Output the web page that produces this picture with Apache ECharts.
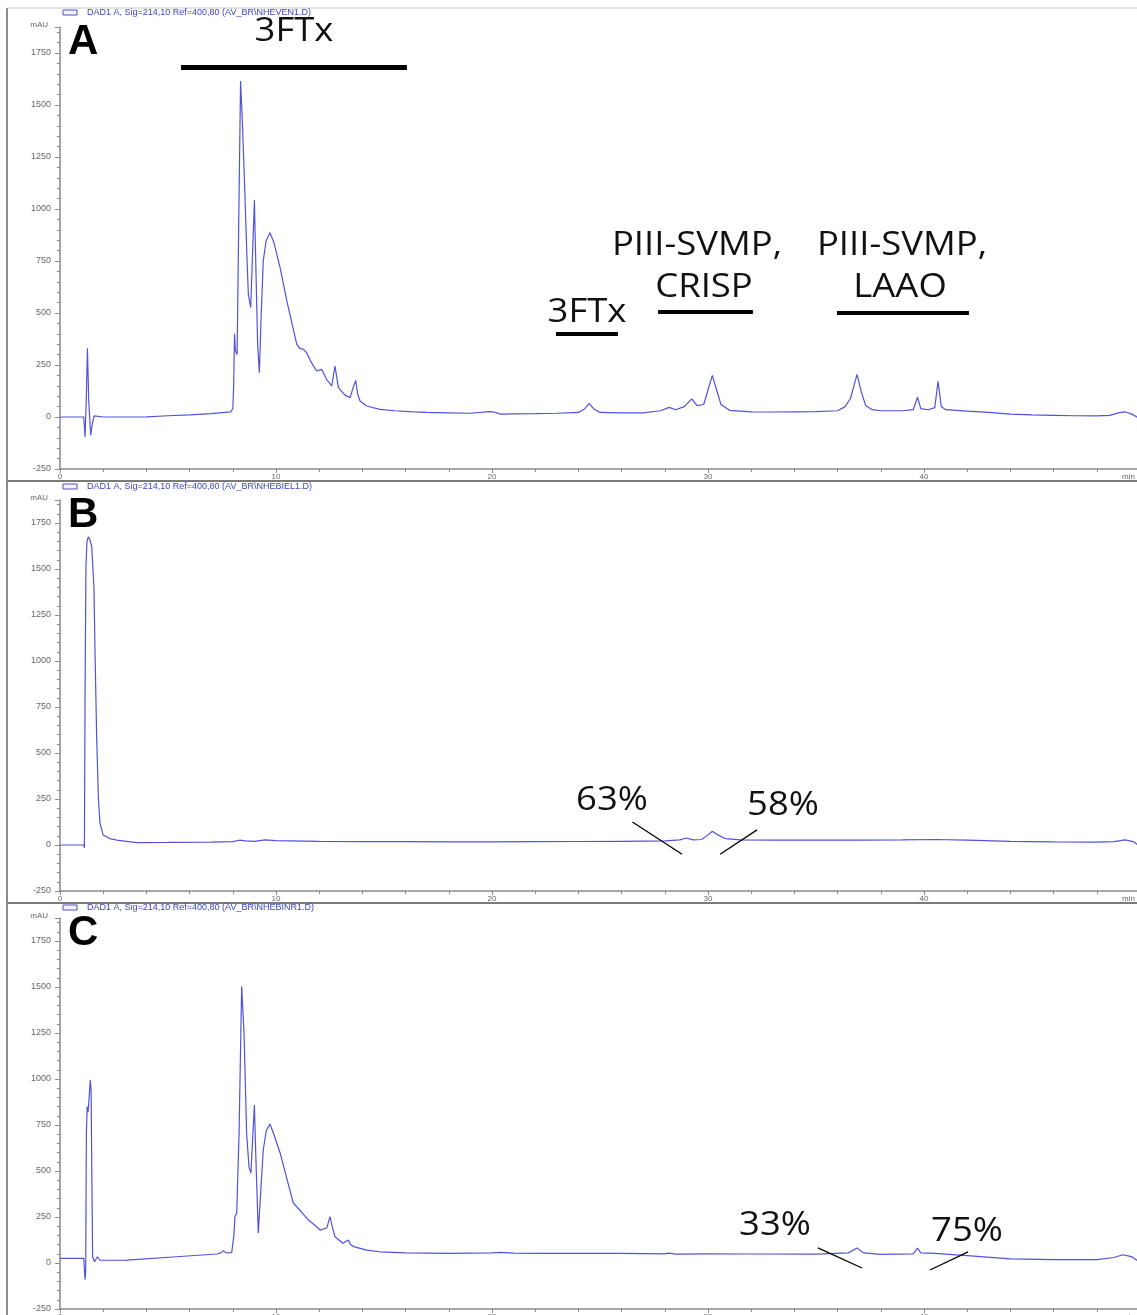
<!DOCTYPE html>
<html>
<head>
<meta charset="utf-8">
<script src="https://cdn.jsdelivr.net/npm/echarts@6/dist/echarts.min.js"></script>
<style>
html,body{margin:0;padding:0;background:#fff;}
#chart{width:1137px;height:1315px;}
</style>
</head>
<body>
<div id="chart"></div>
<script>
// ---- data (retention time in min, absorbance in mAU) ----
const panelLetters = ['A', 'B', 'C'];
const headerFiles = ['AV_BR\\NHEVEN1.D', 'AV_BR\\NHEBIEL1.D', 'AV_BR\\NHEBINR1.D'];
const yTickValues = [-250, 0, 250, 500, 750, 1000, 1250, 1500, 1750];
const xTickValues = [0, 10, 20, 30, 40];

const traceA = [
  [0,0],[1.1,0],[1.16,-96],[1.22,100],[1.27,330],[1.33,80],[1.42,-87],[1.5,-30],[1.58,5],[1.65,3],[2,0],
  [3,0],[4,1],[5,6],[6,10],[7,16],[7.9,25],[8.0,40],[8.04,150],[8.08,400],[8.12,320],[8.2,300],[8.27,900],
  [8.36,1615],[8.45,1400],[8.56,1071],[8.65,780],[8.72,590],[8.83,526],[8.92,800],[9.0,1042],[9.05,800],
  [9.15,350],[9.23,213],[9.3,450],[9.41,750],[9.54,846],[9.72,886],[9.9,840],[10.19,718],[10.5,558],
  [10.96,350],[11.1,330],[11.27,325],[11.42,309],[11.65,260],[11.88,221],[12.11,229],[12.35,180],
  [12.58,149],[12.73,245],[12.8,200],[12.89,141],[13.2,105],[13.43,93],[13.6,150],[13.69,176],[13.78,110],
  [13.89,77],[14.2,53],[14.81,37],[15.5,30],[16.36,25],[17,22],[18,20],[19,18],[19.9,26],[20.1,24],
  [20.4,14],[21,15],[22,16],[23,18],[24,22],[24.3,40],[24.5,65],[24.7,40],[25,22],[26,20],[27,20],
  [27.8,30],[28.2,46],[28.5,35],[28.9,50],[29.25,87],[29.5,55],[29.8,60],[30.0,130],[30.2,200],[30.4,130],
  [30.6,60],[31,32],[32,25],[33,24],[34,25],[35,26],[36,30],[36.35,50],[36.6,90],[36.9,205],[37.1,120],
  [37.3,55],[37.6,35],[38,30],[39,30],[39.5,35],[39.7,95],[39.85,40],[40.2,35],[40.5,45],[40.65,172],
  [40.8,50],[41,35],[42,28],[43,22],[44,14],[45,10],[46,8],[47,6],[48,5],[48.6,8],[49.0,20],[49.3,25],
  [49.6,15],[50,-8]
];

const traceB = [
  [0,0],[1.1,0],[1.13,-15],[1.16,800],[1.2,1512],[1.25,1650],[1.31,1675],[1.38,1660],[1.47,1621],
  [1.57,1404],[1.63,1000],[1.70,571],[1.78,250],[1.85,119],[2.0,54],[2.3,35],[2.62,27],[3.55,13],[5,14],
  [7,16],[8,18],[8.3,26],[8.6,22],[9,20],[9.5,28],[10,24],[12,20],[14,18],[16,18],[18,17],[20,17],[22,18],
  [24,19],[26,20],[28,22],[28.7,28],[29.0,38],[29.3,28],[29.7,30],[30.0,55],[30.2,75],[30.45,55],
  [30.8,35],[31.5,28],[33,26],[35,26],[37,26],[39,28],[40.5,30],[42,26],[44,20],[46,17],[48,16],
  [48.8,18],[49.3,28],[49.7,18],[50,-8]
];

const traceC = [
  [0,25],[1.1,25],[1.16,-90],[1.19,-40],[1.22,700],[1.26,850],[1.3,820],[1.35,900],[1.40,995],[1.44,940],
  [1.48,400],[1.51,34],[1.6,7],[1.73,34],[1.85,15],[1.93,7],[3.09,16],[5.4,34],[7.25,49],[7.45,55],
  [7.56,67],[7.7,55],[7.95,56],[8.05,150],[8.10,252],[8.18,270],[8.29,705],[8.41,1502],[8.52,1250],
  [8.64,705],[8.75,520],[8.84,489],[8.93,700],[9.0,859],[9.06,600],[9.18,163],[9.3,400],[9.41,614],
  [9.55,720],[9.72,755],[9.9,700],[10.19,598],[10.5,460],[10.8,326],[11.1,288],[11.3,260],[11.5,234],
  [11.8,205],[12.04,179],[12.35,190],[12.5,252],[12.6,200],[12.73,143],[13.1,107],[13.35,125],[13.45,100],
  [13.6,89],[14.2,70],[14.8,61],[16,55],[18,52],[20,55],[20.4,58],[21,54],[22,52],[24,52],[26,52],[28,50],
  [28.2,54],[28.5,48],[30,50],[32,49],[35,48],[36.5,55],[36.9,81],[37.2,55],[38,47],[39.5,50],[39.7,81],
  [39.85,55],[40.5,52],[42,40],[44,22],[46,18],[48,18],[48.8,30],[49.2,45],[49.6,35],[50,5]
];

// annotation bars / leader lines, in (min, mAU)
const barsA = [
  [[5.6,1683],[16.06,1683],5],
  [[22.96,399],[25.83,399],4],
  [[27.69,505],[32.08,505],4],
  [[35.97,500],[42.08,500],4]
];
const leadersB = [
  [[26.5,125],[28.8,-50]],
  [[32.27,82],[30.56,-50]]
];
const leadersC = [
  [[35.09,82],[37.13,-27]],
  [[42.04,60],[40.28,-38]]
];
const textsA = [
  ['3FTx', 294, 32], ['3FTx', 587, 313], ['PIII-SVMP,', 697, 246], ['CRISP', 704, 288],
  ['PIII-SVMP,', 902, 246], ['LAAO', 900, 288]
];
const textsB = [['63%', 612, 801], ['58%', 783, 806]];
const textsC = [['33%', 775, 1226], ['75%', 967, 1232]];

// ---- layout ----
const grids = [
  {left: 60, top: 27, width: 1080, height: 442},
  {left: 60, top: 500, width: 1080, height: 391},
  {left: 60, top: 918, width: 1080, height: 391}
];
const headerY = [13, 487, 908];
const sepY = [481, 903];
const traceColor = '#5252dc';
const axisColor = '#8a8a8a';
const labelColor = '#666';

const chart = echarts.init(document.getElementById('chart'), null, {renderer: 'canvas'});

function makeLines(list, width) {
  return list.map(l => [
    {coord: l[0], lineStyle: {width: l[2] || width, color: '#000', type: 'solid'}},
    {coord: l[1]}
  ]);
}

const xAxes = grids.map((g, i) => ({
  type: 'value', gridIndex: i, min: 0, max: 50, interval: 10,
  axisLine: {show: true, onZero: false, lineStyle: {color: axisColor, width: 1.5}},
  axisTick: {show: true, length: 4, lineStyle: {color: axisColor}},
  minorTick: {show: true, splitNumber: 5, length: 3, lineStyle: {color: axisColor}},
  axisLabel: {show: true, fontSize: 8, color: labelColor, margin: 4, showMaxLabel: false,
    formatter: v => (xTickValues.indexOf(v) >= 0 ? String(v) : '')},
  splitLine: {show: false}, minorSplitLine: {show: false}
}));

const yAxes = grids.map((g, i) => ({
  type: 'value', gridIndex: i, min: -250, max: 1875, interval: 250,
  name: 'mAU', nameLocation: 'end', nameGap: 2,
  nameTextStyle: {fontSize: 8, color: labelColor, align: 'right', verticalAlign: 'middle', padding: [0, 12, 0, 0]},
  axisLine: {show: true, onZero: false, lineStyle: {color: axisColor, width: 1.5}},
  axisTick: {show: true, length: 5, lineStyle: {color: axisColor}},
  minorTick: {show: true, splitNumber: 5, length: 3, lineStyle: {color: axisColor}},
  axisLabel: {show: true, fontSize: 9, color: labelColor, margin: 9,
    formatter: v => (yTickValues.indexOf(v) >= 0 ? String(v) : '')},
  splitLine: {show: false}, minorSplitLine: {show: false}
}));

const traces = [traceA, traceB, traceC];
const marks = [makeLines(barsA, 4), makeLines(leadersB, 1.3), makeLines(leadersC, 1.3)];

const series = traces.map((d, i) => ({
  type: 'line', xAxisIndex: i, yAxisIndex: i, data: d,
  showSymbol: false, symbol: 'none', smooth: false, animation: false,
  lineStyle: {color: traceColor, width: 1.2},
  clip: true,
  markLine: {
    silent: true, animation: false, symbol: ['none', 'none'],
    label: {show: false},
    lineStyle: {color: '#000', type: 'solid', width: 1.3},
    emphasis: {disabled: true},
    data: marks[i]
  }
}));

const graphics = [];
// frame lines
graphics.push({type: 'line', shape: {x1: 7, y1: 8, x2: 7, y2: 1315}, style: {stroke: '#8c8c8c', lineWidth: 2}, z: 100});
graphics.push({type: 'line', shape: {x1: 7, y1: 8, x2: 1137, y2: 8}, style: {stroke: '#c8c8c8', lineWidth: 1}, z: 100});
sepY.forEach(y => graphics.push({type: 'line', shape: {x1: 7, y1: y, x2: 1137, y2: y}, style: {stroke: '#7a7a7a', lineWidth: 2}, z: 100}));
// headers
headerY.forEach((y, i) => {
  graphics.push({type: 'rect', shape: {x: 63, y: y - 3, width: 14, height: 5}, style: {fill: '#f4f4ff', stroke: '#5050c0', lineWidth: 1}, z: 100});
  graphics.push({type: 'text', x: 87, y: y, style: {text: 'DAD1 A, Sig=214,10 Ref=400,80 (' + headerFiles[i] + ')', font: '9px Liberation Sans', fill: '#3a46c8', verticalAlign: 'middle'}, z: 100});
  graphics.push({type: 'text', x: 68, y: grids[i].top - 6, style: {text: panelLetters[i], font: 'bold 42px Liberation Sans', fill: '#000', verticalAlign: 'top'}, z: 100});
  graphics.push({type: 'text', x: 1122, y: grids[i].top + grids[i].height + 4, style: {text: 'min', font: '8px Liberation Sans', fill: labelColor, verticalAlign: 'top'}, z: 100});
});
[textsA, textsB, textsC].forEach(list => list.forEach(t => {
  graphics.push({type: 'text', x: t[1], y: t[2], scaleX: 1.14, style: {text: t[0], font: '32px "Open Sans"', fill: '#111', align: 'center', verticalAlign: 'middle'}, z: 100});
}));

chart.setOption({
  animation: false,
  backgroundColor: '#ffffff',
  grid: grids.map(g => Object.assign({containLabel: false, outerBoundsMode: 'none'}, g)),
  xAxis: xAxes,
  yAxis: yAxes,
  series: series,
  graphic: graphics
});
</script>
</body>
</html>
